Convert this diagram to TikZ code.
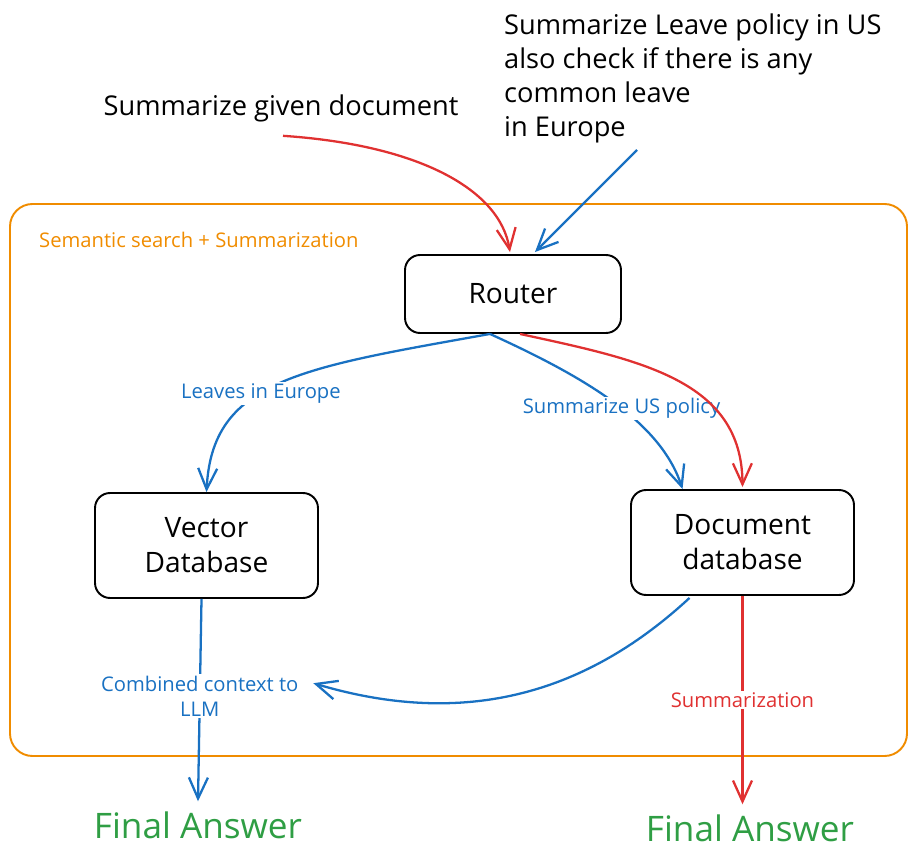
\documentclass[tikz,border=0pt]{standalone}
\usepackage{fontspec}
\setmainfont{Open Sans}
\usetikzlibrary{arrows.meta, calc}

\definecolor{xred}{HTML}{E03131}
\definecolor{xblue}{HTML}{1971C2}
\definecolor{xgreen}{HTML}{2F9E44}
\definecolor{xorange}{HTML}{F08C00}

\begin{document}
\begin{tikzpicture}[x=0.02cm, y=-0.02cm, >={Straight Barb[length=0.42cm, width=0.38cm]},
    box/.style={draw, rectangle, rounded corners=0.3cm, line width=1.1pt, align=center, font=\fontsize{16}{20}\selectfont},
    lbl/.style={fill=white, inner sep=1pt, align=center, font=\fontsize{11.5}{14}\selectfont},
    redline/.style={->, xred, line width=1.3pt},
    blueline/.style={->, xblue, line width=1.3pt},
    answer/.style={xgreen, font=\fontsize{20}{24}\selectfont}]
    \useasboundingbox (0,0) rectangle (917,861);

    % Outer frame
    \draw[xorange, line width=1.1pt, rounded corners=0.45cm] (10,204) rectangle (907,756);
    \node[xorange, anchor=west, font=\fontsize{11.5}{14}\selectfont] (title) at (33,240) {Semantic search + Summarization};

    % Queries
    \node[font=\fontsize{15.5}{19}\selectfont] (q1) at (281,108) {Summarize given document};
    \node[anchor=north west, align=left, font=\fontsize{15.5}{19.3}\selectfont] (q2) at (498,8) {Summarize Leave policy in US\\also check if there is any\\common leave\\in Europe};
    \coordinate (q2tail) at (637,150);

    % Router node
    \node[box, minimum width=4.32cm, minimum height=1.56cm] (router) at (513,294) {Router};

    % Database nodes
    \node[box, minimum width=4.46cm, minimum height=2.1cm] (vec) at (206.5,545.5) {Vector\\Database};
    \node[box, minimum width=4.46cm, minimum height=2.1cm] (doc) at (742.5,542.5) {Document\\database};

    % Answers
    \node[answer] (fa1) at (198,825) {Final Answer};
    \node[answer] (fa2) at (750,828) {Final Answer};

    % Arrows into the router
    \draw[redline] ($(q1.south)+(2,8)$) .. controls (420,145) and (500,190) .. ($(router.north)+(-3,-2)$);
    \draw[blueline] (q2tail) -- ($(router.north)+(22,-2)$);

    % Router to databases
    \draw[blueline] ($(router.south)+(-23,0)$) .. controls (300,368) and (212,380) .. (vec.north) node[lbl, pos=0.57] {Leaves in Europe};
    \draw[blueline] ($(router.south)+(-23,0)$) .. controls (580,375) and (660,420) .. ($(doc.north)+(-60,0)$) node[lbl, pos=0.55] {Summarize US policy};
    \draw[redline] ($(router.south)+(7,0)$) .. controls (640,360) and (742,380) .. ($(doc.north)+(0,-2)$);

    % Databases to answers
    \draw[blueline] ($(vec.south)+(-5,0)$) -- ($(fa1.north)+(0,-4)$) node[lbl, pos=0.48] (ctx) {Combined context to\\LLM};
    \draw[blueline] ($(doc.south)+(-53,2)$) .. controls (590,690) and (470,730) .. ($(ctx.north east)+(12,10)$);
    \draw[redline] (doc.south) -- ($(doc.south |- fa2.north)+(0,-4)$) node[lbl, pos=0.5] {Summarization};
\end{tikzpicture}
\end{document}
